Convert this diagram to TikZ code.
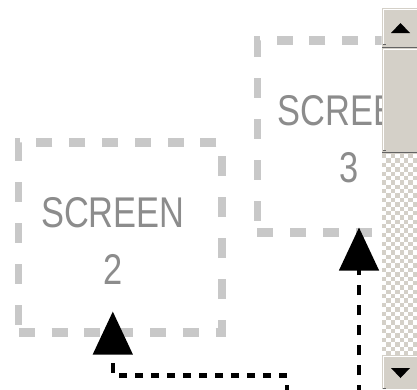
\documentclass[tikz,border=0pt]{standalone}
\usepackage{fontspec}
\newfontfamily\screenfont{Liberation Sans}
\usetikzlibrary{arrows.meta, calc}

\definecolor{boxgray}{RGB}{200,200,200}
\definecolor{textgray}{RGB}{140,140,140}
\definecolor{barface}{RGB}{212,208,200}
\definecolor{bardark}{RGB}{100,100,100}

\begin{document}
\begin{tikzpicture}[
    x=1pt, y=-1pt,
    screen/.style={
        rectangle, draw=boxgray, line width=9pt,
        dash pattern=on 20pt off 21pt,
        minimum width=254pt, inner sep=0pt
    },
    screenlabel/.style={
        anchor=north, inner sep=0pt, align=center, text=textgray,
        font=\screenfont\fontsize{43}{57}\selectfont
    },
    flow/.style={
        line width=5pt, draw=black, dash pattern=on 10pt off 10pt,
        -{Triangle[length=43pt, width=49pt]}
    },
    highlight/.style={draw=white, line width=1pt},
    shadowline/.style={draw=bardark, line width=1.5pt}
]

\useasboundingbox (0,0) rectangle (417,389);
\fill[white] (0,0) rectangle (417,389);

% ---- Screens (view is squeezed sideways) ----
\begin{scope}
\clip (0,0) rectangle (381.5,389);
\begin{scope}[transform canvas={xscale=0.8}]
    % Boxes
    \node[screen, minimum height=190pt] (scr2) at (150.6, 237) {};
    \node[screen, minimum height=192pt] (scr3) at (448.75, 136) {};
    % Labels
    \node[screenlabel] (lab2) at (141, 197) {SCREEN\\2};
    \node[screenlabel] (lab3) at (436.5, 95) {SCREEN\\3};
    % Free ends below the view
    \coordinate (in2) at (358.75, 395);
    \coordinate (in3) at (448.75, 395);
    % Connectors
    \draw[flow] (in2) -- ++(0,-20) -| ($(lab2.south |- scr2.south)+(0,-25)$);
    \draw[flow] (in3) -- ($(scr3.south)+(0,-9)$);
\end{scope}
\end{scope}

% ---- Scrollbar ----
\fill[barface] (382,8) rectangle (417,389);
% Trough
\fill[white] (382,153.5) rectangle (417,355);
\foreach \r in {0,...,45} {
    \foreach \c in {0,2,4,6} {
        \pgfmathsetmacro\cx{382+4.375*(\c+mod(\r,2))}
        \fill[barface] (\cx, 154+4.375*\r) rectangle ++(4.375,4.375);
    }
}
% Up button
\fill[barface] (382,8) rectangle (417,47);
\draw[highlight] (383.5,45) -- (383.5,9.5) -- (417,9.5);
\draw[shadowline] (382,47.5) -- (417,47.5);
\draw[bardark, line width=1pt] (382.5,44.5) -- (385.5,44.5);
\fill[black] (391,33) -- (410,33) -- (400.5,23) -- cycle;
% Thumb
\draw[highlight] (383.5,150) -- (383.5,49.5) -- (417,49.5);
\draw[shadowline] (382,152.5) -- (417,152.5);
\draw[bardark, line width=1pt] (382.5,150.5) -- (385.5,150.5);
% Down button
\fill[barface] (382,355) rectangle (417,389);
\draw[highlight] (383.5,389) -- (383.5,356.5) -- (417,356.5);
\draw[bardark, line width=1pt] (382.5,388.5) -- (385.5,388.5);
\fill[black] (391,368) -- (410,368) -- (400.5,378) -- cycle;

\end{tikzpicture}
\end{document}
